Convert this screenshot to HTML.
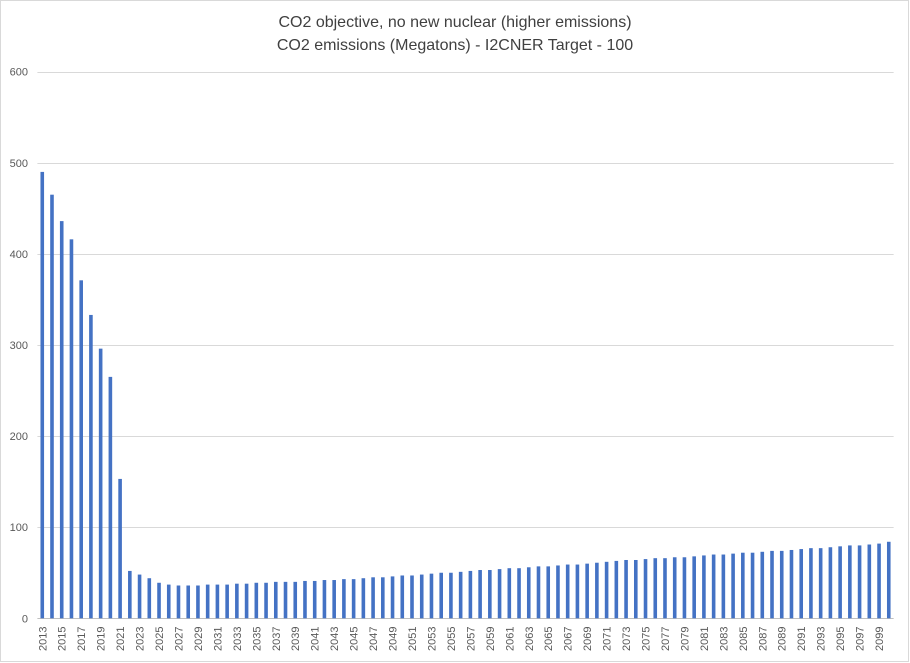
<!DOCTYPE html>
<html><head><meta charset="utf-8"><style>
html,body{margin:0;padding:0;background:#fff;}
svg{display:block;font-family:"Liberation Sans",sans-serif;}
</style></head><body>
<svg id="chart" width="910" height="663">
<rect x="0.5" y="0.5" width="908" height="661" fill="#fff" stroke="#d9d9d9"/>
<text x="455" y="27" text-anchor="middle" font-size="16" fill="#404040">CO2 objective, no new nuclear (higher emissions)</text>
<text x="455" y="50" text-anchor="middle" font-size="16" fill="#404040">CO2 emissions (Megatons) - I2CNER Target - 100</text>
<g id="grid"></g><g id="bars"></g><g id="xl"></g>
</svg>
<script>
const startYear = 2013;
const values = [490,465,436,416,371,333,296,265,153,52,48,44,39,37,36,
36,36,37,37,37,38,38,39,39,40,40,40,41,41,42,42,43,43,44,45,45,46,47,47,48,49,50,50,51,52,53,53,54,55,55,56,57,57,58,59,59,60,61,
62,63,64,64,65,66,66,67,67,68,69,70,70,71,72,72,73,74,74,75,76,77,77,78,79,80,80,81,82,84];
const yTicks = [0,100,200,300,400,500,600];
const NS="http://www.w3.org/2000/svg";
const left=37.4, band=9.73, y0=618.3, pxPer=0.911;
const yS=v=>y0-v*pxPer;
const grid=document.getElementById('grid'), bars=document.getElementById('bars'), xl=document.getElementById('xl');
yTicks.forEach(t=>{
  const l=document.createElementNS(NS,'line');
  l.setAttribute('x1',left);l.setAttribute('x2',left+band*values.length);
  l.setAttribute('y1',Math.round(yS(t))+0.5);l.setAttribute('y2',Math.round(yS(t))+0.5);
  l.setAttribute('stroke',t===0?'#bfbfbf':'#d9d9d9');
  
  
  grid.appendChild(l);
  const tx=document.createElementNS(NS,'text');
  tx.setAttribute('x',28);tx.setAttribute('y',yS(t)+4);tx.setAttribute('text-anchor','end');
  tx.setAttribute('font-size','11');tx.setAttribute('fill','#595959');tx.textContent=t;
  
  
  grid.appendChild(tx);
});
values.forEach((v,i)=>{
  const cx=left+band*(i+0.5);
  const r=document.createElementNS(NS,'rect');
  r.setAttribute('x',cx-1.8);r.setAttribute('width',3.6);
  r.setAttribute('y',yS(v));r.setAttribute('height',v*pxPer);
  r.setAttribute('fill','#4472c4');
  
  
  bars.appendChild(r);
  if(i%2===0){
    const tx=document.createElementNS(NS,'text');
    tx.setAttribute('transform','translate('+(cx+4)+',651) rotate(-90)');
    tx.setAttribute('font-size','11');tx.setAttribute('fill','#595959');
    tx.textContent=startYear+i;
    
    
    xl.appendChild(tx);
  }
});
</script>
</body></html>
